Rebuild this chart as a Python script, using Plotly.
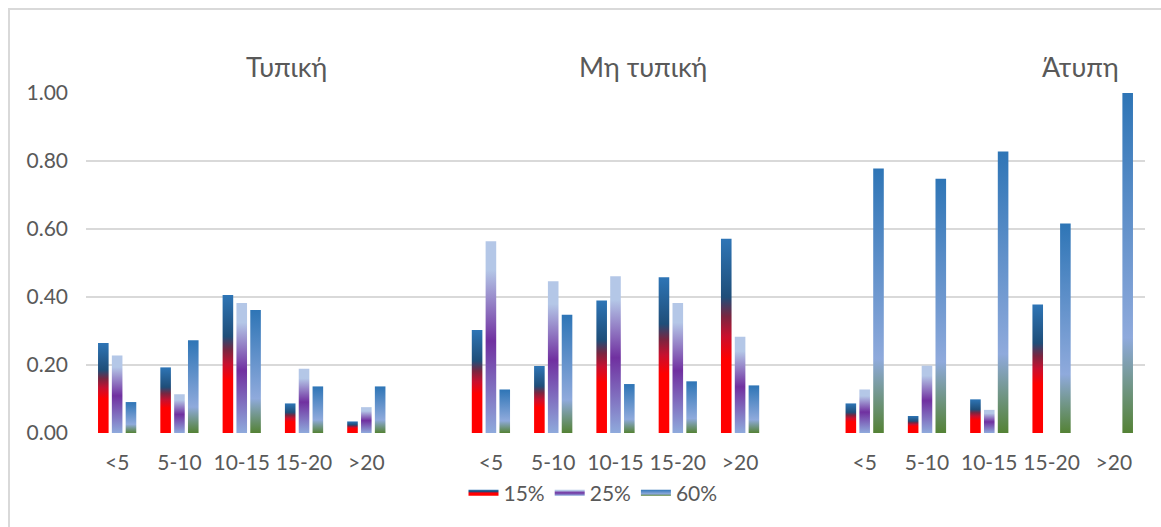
import plotly.graph_objects as go

# ---------------- data ----------------
categories = ['<5', '5-10', '10-15', '15-20', '>20']
groups = ['Τυπική', 'Μη τυπική', 'Άτυπη']
series_names = ['15%', '25%', '60%']

s15_typ = [0.265, 0.193, 0.406, 0.087, 0.034]
s25_typ = [0.228, 0.114, 0.382, 0.189, 0.076]
s60_typ = [0.091, 0.273, 0.362, 0.137, 0.137]

s15_non = [0.303, 0.197, 0.390, 0.458, 0.571]
s25_non = [0.564, 0.446, 0.461, 0.382, 0.283]
s60_non = [0.128, 0.348, 0.144, 0.152, 0.140]

s15_inf = [0.087, 0.050, 0.099, 0.378, 0.0]
s25_inf = [0.128, 0.198, 0.068, 0.0, 0.0]
s60_inf = [0.778, 0.748, 0.828, 0.616, 1.000]

y_ticks = [0.0, 0.2, 0.4, 0.6, 0.8, 1.0]

# ---------------- styles ----------------
grad15 = [[0, '#FF0000'], [0.38, '#FF0000'], [0.5, '#C8102E'], [0.6, '#7A2540'],
          [0.7, '#1F4E79'], [1, '#2E75B6']]
grad25 = [[0, '#8FAADC'], [0.48, '#7030A0'], [0.85, '#B4C7E7'], [1, '#B4C7E7']]
grad60 = [[0, '#548235'], [0.28, '#8FAADC'], [1, '#2E75B6']]
gradients = [grad15, grad25, grad60]

series_data = [
    s15_typ + [None] + s15_non + [None] + s15_inf,
    s25_typ + [None] + s25_non + [None] + s25_inf,
    s60_typ + [None] + s60_non + [None] + s60_inf,
]
n_slots = len(series_data[0])
tick_pos = [i for i in range(n_slots) if series_data[0][i] is not None]
tick_text = categories * 3

offsets = [-0.222, 0.0, 0.222]
bar_w = 0.17

FONT = 'Lato'
GREY = '#595959'

fig = go.Figure()
for s, (name, vals, grad) in enumerate(zip(series_names, series_data, gradients)):
    first = True
    for i, v in enumerate(vals):
        if v is None or v <= 0:
            continue
        xc = i + offsets[s]
        x0, x1 = xc - bar_w / 2, xc + bar_w / 2
        fig.add_trace(go.Scatter(
            x=[x0, x1, x1, x0, x0],
            y=[0, 0, v, v, 0],
            mode='none',
            fill='toself',
            fillgradient=dict(type='vertical', colorscale=grad),
            name=name,
            legendgroup=name,
            showlegend=first,
            hoverinfo='skip',
        ))
        first = False

# plot area geometry (pixels)
W, H = 1161, 527
ml, mr, mt, mb = 86, 16, 93, 94
pw = W - ml - mr
ph = H - mt - mb

def px_to_paper_x(px):
    return (px - ml) / pw

def px_to_paper_y(py):
    return (H - mb - py) / ph

annotations = []
title_px = [286, 643, 1080]
for g, xp in zip(groups, title_px):
    annotations.append(dict(
        text=g, x=px_to_paper_x(xp), y=px_to_paper_y(66), xref='paper', yref='paper',
        showarrow=False, xanchor='center', yanchor='middle',
        font=dict(family=FONT, size=27, color=GREY)))

shapes = [
    dict(type='line', xref='paper', yref='paper', x0=px_to_paper_x(9), x1=px_to_paper_x(9),
         y0=px_to_paper_y(8), y1=px_to_paper_y(H + 2), line=dict(color='#D9D9D9', width=2)),
    dict(type='line', xref='paper', yref='paper', x0=px_to_paper_x(8), x1=px_to_paper_x(W + 2),
         y0=px_to_paper_y(9), y1=px_to_paper_y(9), line=dict(color='#D9D9D9', width=2)),
]

fig.update_layout(
    width=W, height=H,
    margin=dict(l=ml, r=mr, t=mt, b=mb, autoexpand=False),
    paper_bgcolor='white', plot_bgcolor='white',
    font=dict(family=FONT, size=21, color=GREY),
    showlegend=True,
    legend=dict(orientation='h', x=px_to_paper_x(593), xanchor='center',
                y=px_to_paper_y(493), yanchor='middle',
                font=dict(family=FONT, size=21, color=GREY),
                itemsizing='constant', bgcolor='rgba(0,0,0,0)'),
    xaxis=dict(range=[-0.5, n_slots - 0.5], tickmode='array', tickvals=tick_pos,
               ticktext=tick_text, showgrid=False, zeroline=False, showline=False,
               ticks='', ticklabelstandoff=15, fixedrange=True, automargin=False),
    yaxis=dict(range=[0, 1.0], tickmode='array', tickvals=y_ticks,
               ticktext=[f'{t:.2f}' for t in y_ticks], showgrid=True,
               gridcolor='#D9D9D9', gridwidth=1.5, zeroline=False, showline=False,
               ticks='', ticklabelstandoff=17, fixedrange=True, automargin=False),
    annotations=annotations,
    shapes=shapes,
    hovermode=False,
)

fig.write_html('out.html',
               config={'displayModeBar': False, 'staticPlot': False},
               post_script="document.body.style.margin='0';document.body.style.padding='0';")
